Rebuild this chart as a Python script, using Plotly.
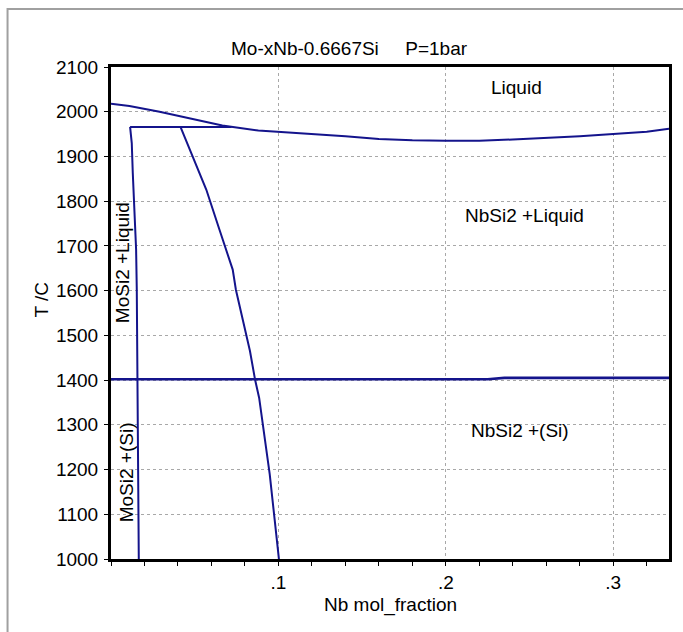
import plotly.graph_objects as go

# ---- data ----
liq_x = [0.0, 0.011, 0.029, 0.045, 0.0665, 0.088, 0.118, 0.14, 0.16, 0.18, 0.20, 0.22, 0.24, 0.26, 0.28, 0.30, 0.32, 0.3333]
liq_T = [2018, 2013, 2000, 1987, 1969, 1958, 1951, 1945, 1939, 1936, 1935, 1935, 1938, 1941, 1945, 1950, 1955, 1962]

eut_x = [0.0114, 0.072]
eut_T = [1966, 1966]

mosi2_x = [0.0114, 0.0118, 0.0124, 0.013, 0.0138, 0.015, 0.0154, 0.0156, 0.016, 0.0166]
mosi2_T = [1966, 1950, 1930, 1864, 1797, 1692, 1602, 1465, 1200, 1000]

nbsi2_x = [0.0415, 0.0434, 0.049, 0.0569, 0.0648, 0.0727, 0.0746, 0.083, 0.0861, 0.0885, 0.0948, 0.1003]
nbsi2_T = [1966, 1949, 1900, 1826, 1736, 1647, 1602, 1465, 1400, 1360, 1190, 1000]

si_x = [0.0, 0.225, 0.235, 0.3333]
si_T = [1402, 1402, 1405, 1405]

x_tickvals = [0.1, 0.2, 0.3]
x_ticktext = [".1", ".2", ".3"]
y_tickvals = [1000, 1100, 1200, 1300, 1400, 1500, 1600, 1700, 1800, 1900, 2000, 2100]

labels = [
    ("Liquid", 0.242, 2055, 0),
    ("NbSi2 +Liquid", 0.247, 1767, 0),
    ("NbSi2 +(Si)", 0.244, 1287, 0),
    ("MoSi2 +Liquid", 0.0073, 1662, -90),
    ("MoSi2 +(Si)", 0.009, 1194, -90),
]

LINE = "#14148c"
FONT = "Liberation Sans, Arial, sans-serif"
FS = 19

fig = go.Figure()
for xs, ts, w in [(liq_x, liq_T, 2), (eut_x, eut_T, 2), (mosi2_x, mosi2_T, 2), (nbsi2_x, nbsi2_T, 2), (si_x, si_T, 2.6)]:
    fig.add_trace(go.Scatter(x=xs, y=ts, mode="lines", line=dict(color=LINE, width=w),
                             showlegend=False, hoverinfo="skip"))

for txt, x, y, ang in labels:
    fig.add_annotation(x=x, y=y, text=txt, showarrow=False, textangle=ang,
                       font=dict(family=FONT, size=FS, color="black"))

# title
fig.add_annotation(xref="paper", yref="paper", x=0.428, y=1.0, yshift=19, yanchor="middle",
                   text="Mo-xNb-0.6667Si&nbsp;&nbsp;&nbsp;&nbsp;&nbsp;P=1bar",
                   showarrow=False, font=dict(family=FONT, size=FS, color="black"))
# y title
fig.add_annotation(xref="paper", yref="y", x=0, xshift=-69, xanchor="center", y=1580, text="T /C",
                   textangle=-90, showarrow=False, font=dict(family=FONT, size=FS, color="black"))
# x title
fig.add_annotation(xref="paper", yref="paper", x=0.5, y=0, yshift=-46, yanchor="middle",
                   text="Nb mol_fraction", showarrow=False, font=dict(family=FONT, size=FS, color="black"))

# outer grey frame
fig.add_shape(type="rect", xref="paper", yref="paper", x0=-0.1854, x1=1.05, y0=-0.2, y1=1.1179,
              line=dict(color="#a0a0a0", width=2), layer="below")

fig.update_xaxes(range=[0, 0.3333], tickvals=x_tickvals, ticktext=x_ticktext,
                 showgrid=True, gridcolor="#a8a8a8", griddash="dot", gridwidth=1,
                 showline=True, linecolor="black", linewidth=3, mirror=True,
                 ticks="outside", ticklen=4, tickwidth=1, tickcolor="black",
                 minor=dict(dtick=0.02, tick0=0, ticks="outside", ticklen=4, tickcolor="black", showgrid=False),
                 tickfont=dict(family=FONT, size=FS, color="black"), ticklabelstandoff=0,
                 zeroline=False)
fig.update_yaxes(range=[1000, 2100], tickvals=y_tickvals,
                 showgrid=True, gridcolor="#a8a8a8", griddash="dot", gridwidth=1,
                 showline=True, linecolor="black", linewidth=3, mirror=True,
                 ticks="outside", ticklen=4, tickwidth=1, tickcolor="black",
                 tickfont=dict(family=FONT, size=FS, color="black"), ticklabelstandoff=2,
                 zeroline=False)

fig.update_layout(width=683, height=632, margin=dict(l=111, r=11, t=67, b=73),
                  plot_bgcolor="white", paper_bgcolor="white", showlegend=False)

fig.write_html("out.html")
